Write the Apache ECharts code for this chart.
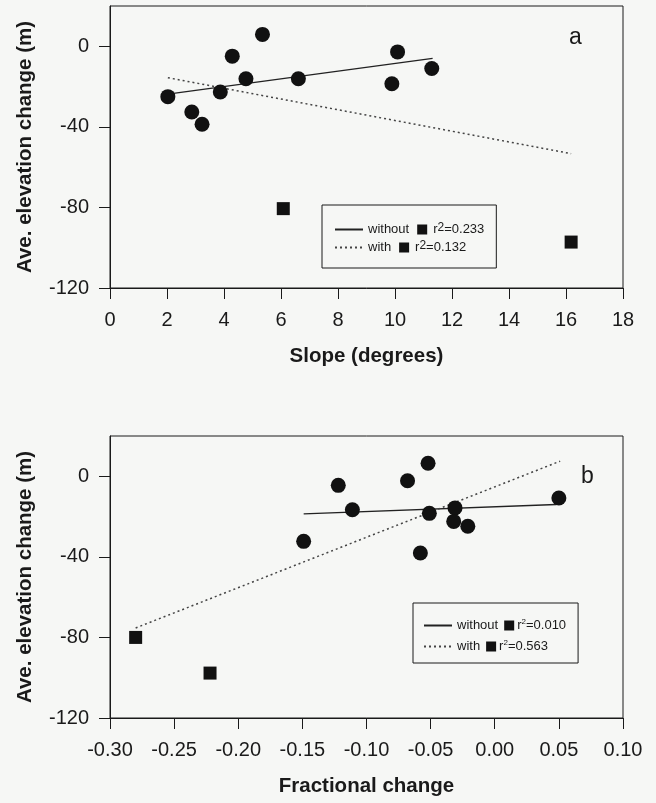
<!DOCTYPE html>
<html>
<head>
<meta charset="utf-8">
<script src="https://cdn.jsdelivr.net/npm/echarts@6/dist/echarts.min.js"></script>
<style>
html,body{margin:0;padding:0;background:#f6f7f5;}
#c{width:656px;height:803px;}
</style>
</head>
<body>
<div id="c"></div>
<script>
// ---- Panel a: slope vs elevation change ----
const slopeX = [2.03, 2.87, 3.23, 3.87, 4.29, 4.77, 5.35, 6.61, 9.89, 10.09, 11.29];
const slopeElev = [-25.0, -32.6, -38.7, -22.7, -4.9, -16.1, 5.9, -16.1, -18.6, -2.8, -11.0];
const slopeOutX = [6.08, 16.18];
const slopeOutElev = [-80.6, -97.2];
const slopeFitWithoutX = [2.03, 11.32];
const slopeFitWithoutY = [-23.8, -6.0];
const slopeFitWithX = [2.03, 16.18];
const slopeFitWithY = [-15.6, -53.3];
const slopeR2 = ['0.233', '0.132'];

// ---- Panel b: fractional change vs elevation change ----
const fracX = [-0.149, -0.122, -0.111, -0.068, -0.052, -0.051, -0.058, -0.031, -0.032, -0.021, 0.050];
const fracElev = [-32.3, -4.5, -16.6, -2.2, 6.5, -18.4, -38.1, -15.7, -22.4, -24.8, -10.8];
const fracOutX = [-0.280, -0.222];
const fracOutElev = [-80.0, -97.7];
const fracFitWithoutX = [-0.149, 0.048];
const fracFitWithoutY = [-18.7, -14.0];
const fracFitWithX = [-0.280, 0.051];
const fracFitWithY = [-75.3, 7.5];
const fracR2 = ['0.010', '0.563'];

const yTicks = {min: -120, max: 20, interval: 40};
const slopeTicks = {min: 0, max: 18, interval: 2};
const fracTicks = {min: -0.30, max: 0.10, interval: 0.05};

const zip = (a, b) => a.map((v, i) => [v, b[i]]);
const FONT = 'Liberation Sans, Arial, sans-serif';
const INK = '#1a1a1a';

function xAxis(idx, t, name, fmt) {
  return {
    type: 'value', gridIndex: idx, min: t.min, max: t.max, interval: t.interval,
    name: name, nameLocation: 'middle', nameGap: 58,
    nameTextStyle: {fontFamily: FONT, fontSize: 20.5, fontWeight: 'bold', color: INK},
    axisLine: {show: true, onZero: false, lineStyle: {color: INK, width: 1}},
    axisTick: {show: true, inside: false, length: 11, lineStyle: {color: INK, width: 1}},
    axisLabel: {margin: 22, fontFamily: FONT, fontSize: 20, color: INK, formatter: fmt},
    splitLine: {show: false}
  };
}
function yAxis(idx) {
  return {
    type: 'value', gridIndex: idx, min: yTicks.min, max: yTicks.max, interval: yTicks.interval,
    name: 'Ave. elevation change (m)', nameLocation: 'middle', nameGap: 74, nameRotate: 90,
    nameTextStyle: {fontFamily: FONT, fontSize: 20.5, fontWeight: 'bold', color: INK},
    axisLine: {show: true, onZero: false, lineStyle: {color: INK, width: 1}},
    axisTick: {show: true, inside: false, length: 11, lineStyle: {color: INK, width: 1}},
    axisLabel: {margin: 21, fontFamily: FONT, fontSize: 20, color: INK, showMaxLabel: false,
      formatter: v => (v > 0 ? '' : String(v))},
    splitLine: {show: false}
  };
}
function legendName(kind, r2, panel) {
  return kind + ' ' + panel + ' r2=' + r2;
}
function legend(panel, r2s, pos, st) {
  return {
    show: true, orient: 'vertical', left: pos.left, top: pos.top,
    padding: pos.padding, itemGap: pos.gap, itemWidth: 28, itemHeight: 10,
    borderColor: INK, borderWidth: 1, borderRadius: 0, backgroundColor: 'transparent',
    itemStyle: {opacity: 0},
    data: [legendName('without', r2s[0], panel), legendName('with', r2s[1], panel)],
    formatter: function (n) {
      const parts = n.split(' ');
      return parts[0] + '{gap| }{sq| }{gap2| }{r|r}{sup|2}=' + parts[2].slice(3);
    },
    textStyle: {
      fontFamily: FONT, fontSize: st.fs, color: INK, lineHeight: 15,
      rich: {
        gap: {width: st.g1, lineHeight: 15},
        gap2: {width: st.g2, lineHeight: 15},
        sq: {width: st.sq, height: st.sq, backgroundColor: '#111', lineHeight: 15},
        r: {fontFamily: FONT, fontSize: st.fs, color: INK, lineHeight: 15},
        sup: {fontSize: st.sup, verticalAlign: 'top', lineHeight: st.sup + 1, fontFamily: FONT, color: INK}
      }
    }
  };
}

const chart = echarts.init(document.getElementById('c'), null, {renderer: 'canvas'});
const fmtInt = v => String(v);
const fmtFrac = v => (Math.abs(v) < 1e-9 ? 0 : v).toFixed(2);

chart.setOption({
  backgroundColor: '#f6f7f5',
  animation: false,
  grid: [
    {left: 110, right: 33, top: 6, height: 282, show: true, borderColor: INK, borderWidth: 1, backgroundColor: 'transparent'},
    {left: 110, right: 33, top: 436, height: 282, show: true, borderColor: INK, borderWidth: 1, backgroundColor: 'transparent'}
  ],
  xAxis: [xAxis(0, slopeTicks, 'Slope (degrees)', fmtInt), xAxis(1, fracTicks, 'Fractional change', fmtFrac)],
  yAxis: [yAxis(0), yAxis(1)],
  legend: [
    legend('a', slopeR2, {left: 322, top: 205, padding: [17, 12, 13, 12], gap: 3},
      {fs: 13, sup: 12, sq: 10, g1: 8, g2: 6}),
    legend('b', fracR2, {left: 413, top: 603, padding: [15, 12, 9, 10], gap: 6},
      {fs: 13, sup: 8, sq: 10, g1: 6, g2: 3})
  ],
  graphic: [
    {type: 'text', left: 569, top: 26, style: {text: 'a', fontFamily: FONT, fontSize: 23, fill: INK}},
    {type: 'text', left: 581, top: 465, style: {text: 'b', fontFamily: FONT, fontSize: 23, fill: INK}}
  ],
  series: [
    {type: 'line', name: legendName('without', slopeR2[0], 'a'), xAxisIndex: 0, yAxisIndex: 0,
     data: zip(slopeFitWithoutX, slopeFitWithoutY), symbol: 'none', itemStyle: {color: '#222'},
     lineStyle: {color: '#222', width: 1.3, type: 'solid'}, z: 2},
    {type: 'line', name: legendName('with', slopeR2[1], 'a'), xAxisIndex: 0, yAxisIndex: 0,
     data: zip(slopeFitWithX, slopeFitWithY), symbol: 'none', itemStyle: {color: '#444'},
     lineStyle: {color: '#444', width: 1.5, type: [2, 3]}, z: 2},
    {type: 'scatter', xAxisIndex: 0, yAxisIndex: 0, data: zip(slopeX, slopeElev), symbol: 'circle', symbolSize: 15,
     itemStyle: {color: '#111', opacity: 1}, z: 3},
    {type: 'scatter', xAxisIndex: 0, yAxisIndex: 0, data: zip(slopeOutX, slopeOutElev), symbol: 'rect', symbolSize: 13,
     itemStyle: {color: '#111', opacity: 1}, z: 3},

    {type: 'line', name: legendName('without', fracR2[0], 'b'), xAxisIndex: 1, yAxisIndex: 1,
     data: zip(fracFitWithoutX, fracFitWithoutY), symbol: 'none', itemStyle: {color: '#222'},
     lineStyle: {color: '#222', width: 1.3, type: 'solid'}, z: 2},
    {type: 'line', name: legendName('with', fracR2[1], 'b'), xAxisIndex: 1, yAxisIndex: 1,
     data: zip(fracFitWithX, fracFitWithY), symbol: 'none', itemStyle: {color: '#444'},
     lineStyle: {color: '#444', width: 1.5, type: [2, 3]}, z: 2},
    {type: 'scatter', xAxisIndex: 1, yAxisIndex: 1, data: zip(fracX, fracElev), symbol: 'circle', symbolSize: 15,
     itemStyle: {color: '#111', opacity: 1}, z: 3},
    {type: 'scatter', xAxisIndex: 1, yAxisIndex: 1, data: zip(fracOutX, fracOutElev), symbol: 'rect', symbolSize: 13,
     itemStyle: {color: '#111', opacity: 1}, z: 3}
  ]
});
</script>
</body>
</html>
